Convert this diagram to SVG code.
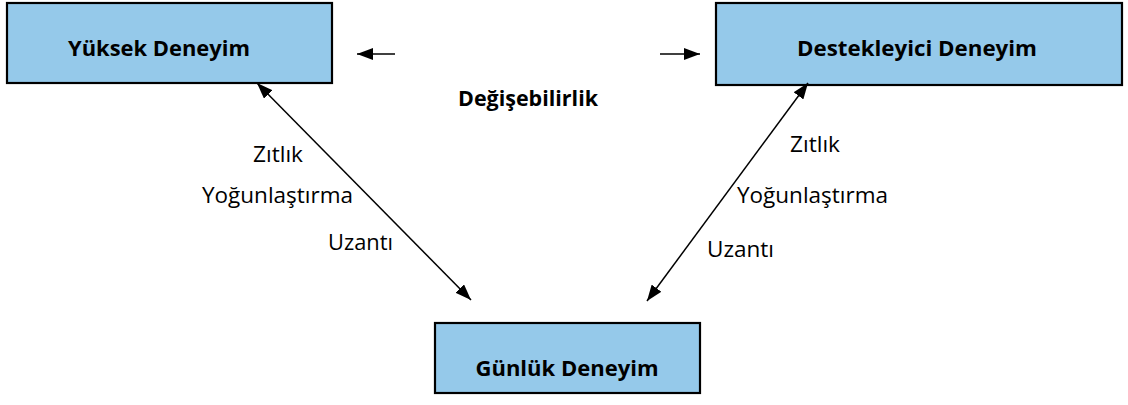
<svg xmlns="http://www.w3.org/2000/svg" width="1128" height="405" viewBox="0 0 1128 405">
  <style>
    .box { fill: #95C9EA; stroke: #000; stroke-width: 2.2; }
    .title { font-family: "Open Sans", "Liberation Sans", sans-serif; font-weight: bold; font-size: 22px; fill: #000; text-anchor: middle; }
    .label { font-family: "Open Sans", "Liberation Sans", sans-serif; font-size: 22px; fill: #000; }
    .link { stroke: #000; stroke-width: 1.5; fill: none; }
  </style>
  <defs>
    <marker id="head" viewBox="0 0 16 12" refX="16" refY="6" markerWidth="16" markerHeight="12" markerUnits="userSpaceOnUse" orient="auto-start-reverse">
      <path d="M0,0 L16,6 L0,12 Z" fill="#000"/>
    </marker>
  </defs>

  <rect width="1128" height="405" fill="#fff"/>

  <g id="node-yuksek">
    <rect class="box" x="7" y="3" width="325" height="80"/>
    <text class="title" x="159" y="56" textLength="182" lengthAdjust="spacingAndGlyphs">Yüksek Deneyim</text>
  </g>

  <g id="node-destekleyici">
    <rect class="box" x="716" y="3" width="406" height="82"/>
    <text class="title" x="917" y="56" textLength="240" lengthAdjust="spacingAndGlyphs">Destekleyici Deneyim</text>
  </g>

  <g id="node-gunluk">
    <rect class="box" x="435" y="323" width="265" height="70"/>
    <text class="title" x="567" y="376" textLength="183" lengthAdjust="spacingAndGlyphs">Günlük Deneyim</text>
  </g>

  <g id="node-degisebilirlik">
    <text class="title" x="528" y="106" textLength="140" lengthAdjust="spacingAndGlyphs">Değişebilirlik</text>
  </g>

  <g id="connectors">
    <line class="link" x1="395" y1="54" x2="357" y2="54" marker-end="url(#head)"/>
    <line class="link" x1="660" y1="54" x2="700" y2="54" marker-end="url(#head)"/>
    <line class="link" x1="257" y1="83" x2="471" y2="300" marker-start="url(#head)" marker-end="url(#head)"/>
    <line class="link" x1="808" y1="83" x2="647" y2="301" marker-start="url(#head)" marker-end="url(#head)"/>
  </g>

  <g id="labels-left">
    <text class="label" x="253" y="162" textLength="50" lengthAdjust="spacingAndGlyphs">Zıtlık</text>
    <text class="label" x="202" y="203" textLength="151" lengthAdjust="spacingAndGlyphs">Yoğunlaştırma</text>
    <text class="label" x="328" y="250" textLength="65" lengthAdjust="spacingAndGlyphs">Uzantı</text>
  </g>

  <g id="labels-right">
    <text class="label" x="790" y="152" textLength="50" lengthAdjust="spacingAndGlyphs">Zıtlık</text>
    <text class="label" x="737" y="203" textLength="151" lengthAdjust="spacingAndGlyphs">Yoğunlaştırma</text>
    <text class="label" x="707" y="257" textLength="67" lengthAdjust="spacingAndGlyphs">Uzantı</text>
  </g>
</svg>
